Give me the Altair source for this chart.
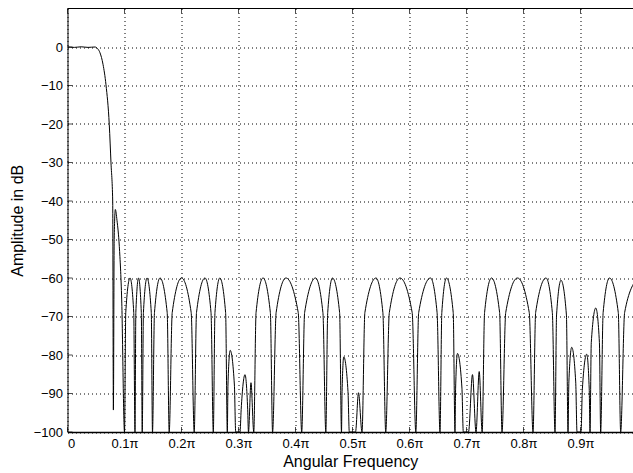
import altair as alt
import pandas as pd

# Normalised angular frequency (units of pi) and amplitude in dB
freq = [
    0.0000, 0.0120, 0.0240, 0.0360, 0.0482, 0.0526, 0.0570, 0.0623, 0.0675, 0.0733,
    0.0763, 0.0793, 0.0805, 0.0819, 0.0839, 0.0868, 0.0909, 0.0951, 0.1000,
    0.1022, 0.1097, 0.1162, 0.1184,
    0.1199, 0.1246, 0.1295, 0.1311,
    0.1332, 0.1395, 0.1470, 0.1491,
    0.1526, 0.1623, 0.1749, 0.1784,
    0.1837, 0.2000, 0.2170, 0.2223,
    0.2263, 0.2412, 0.2518, 0.2558,
    0.2587, 0.2672, 0.2774, 0.2804,
    0.2815, 0.2854, 0.2928, 0.2951,
    0.3026,
    0.3047, 0.3114, 0.3161, 0.3175,
    0.3219, 0.3268,
    0.3308, 0.3430, 0.3559, 0.3598,
    0.3660, 0.3833, 0.4048, 0.4109,
    0.4160, 0.4351, 0.4481, 0.4532,
    0.4565, 0.4649, 0.4774, 0.4807,
    0.4817, 0.4847, 0.4921, 0.4944,
    0.5053,
    0.5105, 0.5167,
    0.5217, 0.5412, 0.5533, 0.5583,
    0.5646, 0.5833, 0.6047, 0.6111,
    0.6161, 0.6368, 0.6484, 0.6535,
    0.6567, 0.6649, 0.6767, 0.6798,
    0.6809, 0.6842, 0.6920, 0.6944,
    0.7035,
    0.7105, 0.7167,
    0.7223, 0.7275,
    0.7317, 0.7439, 0.7581, 0.7623,
    0.7688, 0.7895, 0.8101, 0.8167,
    0.8213, 0.8395, 0.8506, 0.8553,
    0.8580, 0.8658, 0.8753, 0.8781,
    0.8796, 0.8846, 0.8916, 0.8939,
    0.9009,
    0.9033, 0.9109, 0.9153, 0.9167,
    0.9189, 0.9268, 0.9332, 0.9354,
    0.9397, 0.9509, 0.9663, 0.9705,
    0.9774, 1.0000,
]
amp_db = [
    0.0, -0.1, 0.05, -0.1, 0.0, -0.4, -1.5, -4.5, -9.8, -20.2,
    -30.1, -40.1, -94.3, -50.0, -42.2, -45.0, -51.8, -65.7, -100,
    -69, -60, -69, -100,
    -69, -60, -69, -100,
    -69, -60, -69, -100,
    -69, -60, -69, -100,
    -69, -60, -69, -100,
    -69, -60, -69, -100,
    -69, -60, -69, -100,
    -87.8, -78.8, -87.8, -100,
    -100,
    -94.1, -85.1, -94.1, -100,
    -87.2, -100,
    -69, -60, -69, -100,
    -69, -60, -69, -100,
    -69, -60, -69, -100,
    -69, -60, -69, -100,
    -89.5, -80.5, -89.5, -100,
    -100,
    -89.8, -100,
    -69, -60, -69, -100,
    -69, -60, -69, -100,
    -69, -60, -69, -100,
    -69, -60, -69, -100,
    -88.6, -79.6, -88.6, -100,
    -100,
    -85.1, -100,
    -84.3, -100,
    -69, -60, -69, -100,
    -69, -60, -69, -100,
    -69, -60, -69, -100,
    -69.6, -60.6, -69.6, -100,
    -87, -78, -87, -100,
    -100,
    -88.8, -79.8, -88.8, -100,
    -76.8, -67.8, -76.8, -100,
    -69, -60, -69, -100,
    -69, -60,
]

x_tick_values = [0, 0.1, 0.2, 0.3, 0.4, 0.5, 0.6, 0.7, 0.8, 0.9]
y_tick_values = [-100, -90, -80, -70, -60, -50, -40, -30, -20, -10, 0]
y_top = [10]

df = pd.DataFrame({"f": freq, "db": amp_db})
xt = pd.DataFrame({"f": x_tick_values})
yt = pd.DataFrame({"db": y_tick_values})
top = pd.DataFrame({"db": y_top})

FONT = "Liberation Sans"
x_scale = alt.Scale(domain=[0, 0.99211], nice=False, zero=False)
y_scale = alt.Scale(domain=[-100, 10], nice=False, zero=False)

x_axis = alt.Axis(values=x_tick_values, grid=True, ticks=False,
                  labelExpr="datum.value == 0 ? '0' : format(datum.value, '.1f') + 'π'",
                  labelPadding=5, titlePadding=3, domainWidth=1.5)
y_axis = alt.Axis(values=y_tick_values, grid=True, ticks=False,
                  labelPadding=5, titlePadding=8)

X = alt.X("f:Q", scale=x_scale, title="Angular Frequency", axis=x_axis)
Y = alt.Y("db:Q", scale=y_scale, title="Amplitude in dB", axis=y_axis)

line = alt.Chart(df).mark_line(
    color="black", strokeWidth=1, interpolate="monotone", clip=True
).encode(x=X, y=Y)

top_border = alt.Chart(top).mark_rule(color="black", strokeWidth=1).encode(y=Y)

bottom_ticks = alt.Chart(xt).mark_tick(
    color="black", size=5, thickness=1, yOffset=-2.5, orient="vertical"
).encode(x=X, y=alt.datum(-100))

top_ticks = alt.Chart(xt).mark_tick(
    color="black", size=5, thickness=1, yOffset=2.5, orient="vertical"
).encode(x=X, y=alt.datum(10))

left_ticks = alt.Chart(yt).mark_tick(
    color="black", size=5, thickness=1, xOffset=2.5, orient="horizontal"
).encode(y=Y, x=alt.datum(0))

chart = alt.layer(line, top_border, bottom_ticks, top_ticks, left_ticks).properties(
    width=565.5,
    height=423.5,
    autosize=alt.AutoSizeParams(type="none"),
    padding={"left": 67.5, "top": 8.5, "right": 0, "bottom": 41},
    background="white",
).configure_view(stroke=None).configure_axis(
    labelFont=FONT, titleFont=FONT, labelFontSize=13, titleFontSize=16,
    titleFontWeight="normal", labelColor="black", titleColor="black",
    domainColor="black", gridColor="black", gridDash=[1, 3], gridOpacity=1,
    gridWidth=1,
)

chart.save("out.html", embed_options={"renderer": "svg", "actions": False})
